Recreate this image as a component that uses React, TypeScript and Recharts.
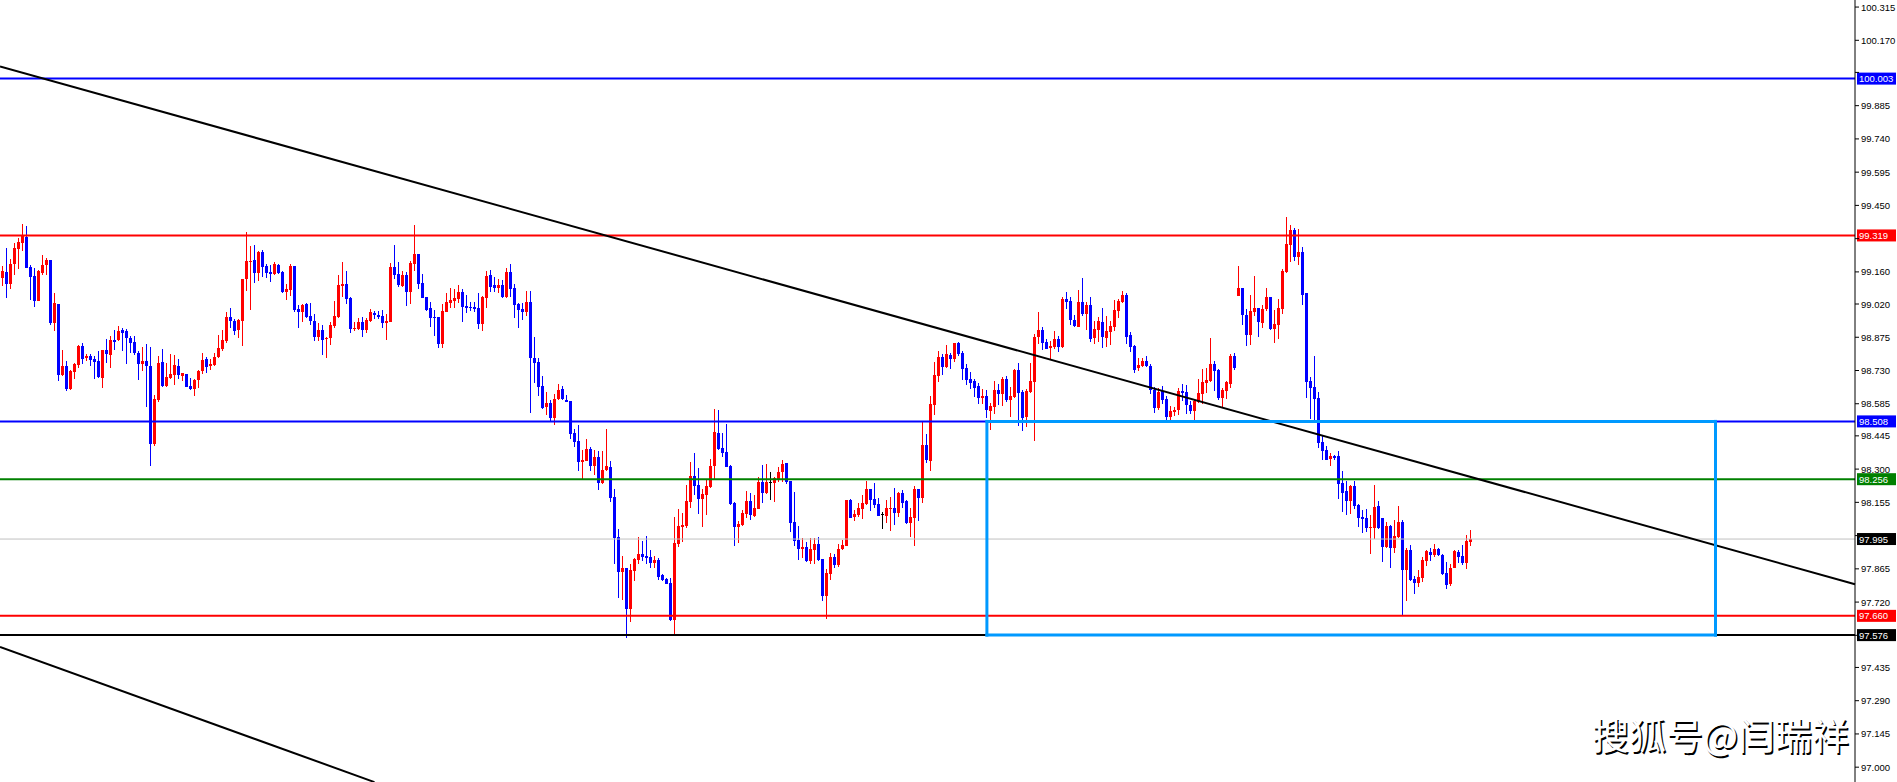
import React from 'react';
import { ComposedChart, Bar, XAxis, YAxis, ReferenceLine } from 'recharts';

// H4-style candles (oldest first)
const opens = [
  99.215, 99.132, 99.160, 99.109, 99.195, 99.261, 99.288, 99.314, 99.182, 99.142,
  99.034, 99.157, 99.188, 99.213, 98.938, 99.021, 98.711, 98.750, 98.650, 98.724,
  98.755, 98.837, 98.786, 98.795, 98.779, 98.771, 98.699, 98.819, 98.799, 98.864,
  98.861, 98.907, 98.903, 98.873, 98.854, 98.808, 98.760, 98.770, 98.750, 98.411,
  98.602, 98.766, 98.663, 98.698, 98.711, 98.751, 98.708, 98.715, 98.663, 98.651,
  98.689, 98.728, 98.780, 98.750, 98.755, 98.790, 98.824, 98.858, 98.965, 98.948,
  98.907, 98.948, 99.128, 99.204, 99.213, 99.157, 99.245, 99.186, 99.160, 99.151,
  99.191, 99.160, 99.073, 99.082, 99.186, 99.000, 98.983, 99.021, 98.968, 98.946,
  98.876, 98.907, 98.866, 98.873, 98.922, 98.962, 99.098, 99.106, 99.048, 98.909,
  98.911, 98.942, 98.907, 98.946, 98.981, 98.973, 98.968, 98.939, 98.943, 99.182,
  99.151, 99.098, 99.147, 99.074, 99.195, 99.239, 99.111, 99.051, 99.003, 98.964,
  98.964, 98.847, 98.986, 99.025, 99.035, 99.042, 99.073, 99.012, 99.007, 99.007,
  99.003, 98.933, 99.046, 99.147, 99.103, 99.090, 99.103, 99.051, 99.160, 99.090,
  99.021, 98.999, 98.986, 99.029, 98.784, 98.767, 98.663, 98.571, 98.589, 98.523,
  98.606, 98.650, 98.602, 98.598, 98.458, 98.423, 98.331, 98.336, 98.388, 98.314,
  98.354, 98.240, 98.297, 98.309, 98.179, 98.004, 97.852, 97.869, 97.691, 97.856,
  97.904, 97.930, 97.921, 97.917, 97.891, 97.904, 97.839, 97.821, 97.804, 97.643,
  97.973, 98.048, 98.053, 98.157, 98.270, 98.231, 98.170, 98.187, 98.222, 98.314,
  98.458, 98.392, 98.375, 98.314, 98.153, 98.048, 98.057, 98.105, 98.162, 98.096,
  98.127, 98.244, 98.196, 98.244, 98.240, 98.257, 98.288, 98.327, 98.248, 98.070,
  97.991, 97.952, 97.960, 97.899, 97.947, 97.973, 97.908, 97.747, 97.843, 97.917,
  97.882, 97.952, 97.965, 98.166, 98.092, 98.100, 98.127, 98.149, 98.214, 98.170,
  98.149, 98.105, 98.096, 98.127, 98.131, 98.109, 98.196, 98.162, 98.065, 98.088,
  98.214, 98.174, 98.405, 98.336, 98.580, 98.706, 98.789, 98.745, 98.798, 98.780,
  98.850, 98.806, 98.741, 98.693, 98.684, 98.663, 98.611, 98.619, 98.554, 98.571,
  98.645, 98.628, 98.693, 98.602, 98.615, 98.732, 98.636, 98.528, 98.636, 98.680,
  98.876, 98.907, 98.854, 98.828, 98.833, 98.867, 98.833, 99.042, 99.034, 98.951,
  98.920, 99.029, 98.977, 99.016, 98.872, 98.907, 98.942, 98.872, 98.898, 98.920,
  98.990, 99.029, 99.060, 98.885, 98.837, 98.741, 98.750, 98.771, 98.750, 98.645,
  98.567, 98.641, 98.606, 98.528, 98.550, 98.558, 98.641, 98.636, 98.580, 98.554,
  98.593, 98.628, 98.674, 98.684, 98.758, 98.732, 98.611, 98.641, 98.671, 98.793,
  99.055, 99.090, 98.973, 98.885, 98.986, 99.003, 98.938, 98.999, 99.051, 98.911,
  98.929, 98.999, 99.160, 99.278, 99.343, 99.225, 99.247, 99.068, 98.684, 98.658,
  98.611, 98.419, 98.383, 98.345, 98.358, 98.358, 98.240, 98.205, 98.162, 98.227,
  98.144, 98.092, 98.088, 98.044, 98.044, 98.140, 98.088, 97.960, 98.053, 97.956,
  98.004, 98.070, 97.860, 97.947, 97.821, 97.804, 97.826, 97.899, 97.938, 97.925,
  97.952, 97.925, 97.847, 97.799, 97.869, 97.938, 97.921, 97.891, 97.982,
];

const highs = [
  99.220, 99.186, 99.264, 99.215, 99.285, 99.309, 99.369, 99.361, 99.191, 99.176,
  99.168, 99.235, 99.220, 99.213, 99.067, 99.021, 98.819, 98.771, 98.732, 98.764,
  98.841, 98.851, 98.800, 98.800, 98.793, 98.815, 98.819, 98.867, 98.880, 98.907,
  98.922, 98.914, 98.911, 98.882, 98.880, 98.815, 98.834, 98.845, 98.834, 98.623,
  98.793, 98.824, 98.764, 98.802, 98.798, 98.780, 98.721, 98.715, 98.698, 98.693,
  98.732, 98.806, 98.790, 98.779, 98.805, 98.885, 98.907, 98.984, 99.003, 98.956,
  98.956, 99.129, 99.334, 99.274, 99.278, 99.252, 99.256, 99.195, 99.191, 99.204,
  99.194, 99.164, 99.107, 99.195, 99.186, 99.016, 99.021, 99.026, 99.025, 98.977,
  98.938, 98.929, 98.876, 98.942, 99.034, 99.147, 99.204, 99.164, 99.051, 98.942,
  98.961, 98.962, 98.961, 98.999, 98.990, 98.990, 98.994, 98.977, 99.200, 99.278,
  99.204, 99.164, 99.160, 99.208, 99.365, 99.239, 99.151, 99.051, 99.029, 98.994,
  98.964, 99.021, 99.068, 99.090, 99.086, 99.103, 99.086, 99.060, 99.029, 99.029,
  99.068, 99.055, 99.164, 99.168, 99.138, 99.129, 99.125, 99.177, 99.195, 99.107,
  99.025, 99.025, 99.077, 99.077, 98.876, 98.784, 98.706, 98.636, 98.602, 98.627,
  98.671, 98.663, 98.623, 98.598, 98.475, 98.493, 98.383, 98.431, 98.396, 98.383,
  98.379, 98.379, 98.475, 98.336, 98.214, 98.039, 97.921, 97.869, 97.886, 97.912,
  98.004, 97.987, 98.008, 97.947, 97.921, 97.912, 97.843, 97.826, 97.826, 98.092,
  98.127, 98.109, 98.231, 98.331, 98.370, 98.304, 98.214, 98.253, 98.345, 98.563,
  98.558, 98.458, 98.498, 98.318, 98.157, 98.074, 98.122, 98.205, 98.196, 98.187,
  98.266, 98.318, 98.323, 98.288, 98.266, 98.309, 98.340, 98.327, 98.248, 98.200,
  98.053, 98.000, 97.982, 98.000, 98.000, 98.004, 97.908, 97.865, 97.934, 97.930,
  97.973, 97.991, 98.166, 98.170, 98.122, 98.153, 98.187, 98.248, 98.214, 98.240,
  98.174, 98.114, 98.166, 98.179, 98.218, 98.200, 98.209, 98.166, 98.131, 98.227,
  98.214, 98.506, 98.453, 98.619, 98.767, 98.815, 98.802, 98.841, 98.806, 98.850,
  98.854, 98.815, 98.758, 98.724, 98.693, 98.674, 98.650, 98.645, 98.589, 98.684,
  98.671, 98.702, 98.706, 98.658, 98.737, 98.763, 98.645, 98.650, 98.763, 98.890,
  98.986, 98.920, 98.867, 98.858, 98.903, 98.880, 99.051, 99.073, 99.051, 98.973,
  99.082, 99.133, 99.029, 99.051, 98.946, 98.964, 99.003, 98.968, 98.946, 99.038,
  99.042, 99.077, 99.068, 98.898, 98.841, 98.784, 98.784, 98.793, 98.758, 98.658,
  98.654, 98.663, 98.619, 98.576, 98.571, 98.654, 98.671, 98.667, 98.598, 98.606,
  98.693, 98.737, 98.741, 98.872, 98.771, 98.737, 98.654, 98.684, 98.802, 98.806,
  99.186, 99.090, 98.999, 99.060, 99.142, 99.003, 99.016, 99.090, 99.051, 98.994,
  99.042, 99.173, 99.400, 99.365, 99.352, 99.347, 99.269, 99.068, 98.702, 98.793,
  98.636, 98.445, 98.401, 98.370, 98.362, 98.379, 98.292, 98.248, 98.231, 98.248,
  98.149, 98.122, 98.127, 98.100, 98.231, 98.162, 98.088, 98.070, 98.057, 98.079,
  98.140, 98.079, 97.956, 97.969, 97.834, 97.860, 97.917, 97.947, 97.956, 97.973,
  97.956, 97.930, 97.895, 97.886, 97.947, 97.947, 97.969, 98.013, 98.035,
];

const lows = [
  99.125, 99.098, 99.048, 99.087, 99.147, 99.173, 99.252, 99.179, 99.038, 99.005,
  99.031, 99.147, 99.146, 98.929, 98.904, 98.684, 98.706, 98.641, 98.645, 98.693,
  98.740, 98.758, 98.771, 98.751, 98.695, 98.696, 98.655, 98.761, 98.743, 98.819,
  98.858, 98.815, 98.760, 98.805, 98.798, 98.689, 98.728, 98.569, 98.315, 98.402,
  98.592, 98.660, 98.660, 98.693, 98.667, 98.693, 98.686, 98.660, 98.645, 98.619,
  98.655, 98.715, 98.721, 98.732, 98.750, 98.786, 98.816, 98.848, 98.914, 98.885,
  98.873, 98.838, 99.078, 98.994, 99.113, 99.122, 99.136, 99.133, 99.118, 99.147,
  99.151, 99.068, 99.038, 99.055, 98.983, 98.916, 98.942, 98.961, 98.929, 98.858,
  98.858, 98.798, 98.786, 98.841, 98.917, 98.958, 99.052, 99.021, 98.895, 98.903,
  98.907, 98.876, 98.894, 98.942, 98.955, 98.955, 98.917, 98.864, 98.943, 99.129,
  99.095, 99.094, 99.013, 99.021, 99.164, 99.087, 99.046, 98.990, 98.920, 98.880,
  98.828, 98.828, 98.983, 99.003, 99.003, 99.025, 98.942, 98.981, 98.990, 98.986,
  98.911, 98.903, 99.003, 99.073, 99.073, 99.068, 99.046, 99.046, 99.051, 98.959,
  98.916, 98.951, 98.968, 98.545, 98.674, 98.619, 98.563, 98.537, 98.506, 98.492,
  98.602, 98.602, 98.593, 98.431, 98.396, 98.292, 98.257, 98.336, 98.292, 98.275,
  98.209, 98.236, 98.292, 98.157, 97.886, 97.738, 97.730, 97.564, 97.634, 97.812,
  97.886, 97.899, 97.886, 97.869, 97.869, 97.817, 97.812, 97.799, 97.638, 97.577,
  97.960, 97.982, 98.044, 98.131, 98.187, 98.105, 98.048, 98.100, 98.218, 98.257,
  98.383, 98.354, 98.309, 98.144, 97.965, 97.978, 98.053, 98.088, 98.079, 98.092,
  98.127, 98.153, 98.192, 98.166, 98.157, 98.244, 98.244, 98.236, 98.026, 97.965,
  97.904, 97.912, 97.895, 97.886, 97.886, 97.899, 97.726, 97.647, 97.817, 97.869,
  97.873, 97.947, 97.965, 98.088, 98.074, 98.092, 98.083, 98.144, 98.118, 98.131,
  98.096, 98.039, 98.065, 98.030, 98.057, 98.092, 98.131, 98.061, 98.004, 97.965,
  98.074, 98.153, 98.327, 98.292, 98.537, 98.680, 98.711, 98.741, 98.737, 98.767,
  98.793, 98.689, 98.667, 98.650, 98.615, 98.584, 98.584, 98.523, 98.471, 98.541,
  98.580, 98.576, 98.593, 98.528, 98.611, 98.488, 98.466, 98.484, 98.632, 98.423,
  98.846, 98.819, 98.824, 98.776, 98.824, 98.811, 98.828, 98.999, 98.929, 98.920,
  98.920, 98.968, 98.907, 98.854, 98.846, 98.854, 98.828, 98.833, 98.841, 98.903,
  98.959, 99.025, 98.846, 98.811, 98.719, 98.728, 98.745, 98.745, 98.628, 98.545,
  98.558, 98.584, 98.515, 98.515, 98.532, 98.537, 98.598, 98.541, 98.541, 98.515,
  98.589, 98.584, 98.632, 98.680, 98.641, 98.602, 98.567, 98.606, 98.654, 98.732,
  99.055, 98.929, 98.837, 98.841, 98.968, 98.876, 98.916, 98.990, 98.907, 98.850,
  98.867, 98.977, 99.156, 99.204, 99.208, 99.191, 99.016, 98.611, 98.519, 98.515,
  98.392, 98.340, 98.340, 98.314, 98.340, 98.170, 98.114, 98.100, 98.105, 98.127,
  98.048, 98.022, 98.026, 97.930, 97.996, 98.039, 97.895, 97.956, 97.869, 97.934,
  98.000, 97.665, 97.726, 97.812, 97.756, 97.786, 97.808, 97.878, 97.899, 97.917,
  97.921, 97.839, 97.778, 97.791, 97.869, 97.891, 97.882, 97.865, 97.965,
];

const closes = [
  99.132, 99.164, 99.109, 99.195, 99.265, 99.291, 99.317, 99.179, 99.139, 99.035,
  99.164, 99.189, 99.213, 98.938, 99.025, 98.711, 98.750, 98.651, 98.728, 98.758,
  98.838, 98.780, 98.795, 98.777, 98.767, 98.702, 98.819, 98.802, 98.864, 98.856,
  98.903, 98.895, 98.873, 98.851, 98.805, 98.760, 98.770, 98.751, 98.411, 98.606,
  98.763, 98.664, 98.700, 98.715, 98.754, 98.711, 98.717, 98.660, 98.650, 98.689,
  98.727, 98.776, 98.747, 98.760, 98.790, 98.829, 98.863, 98.964, 98.948, 98.904,
  98.951, 99.129, 99.208, 99.208, 99.157, 99.245, 99.183, 99.157, 99.153, 99.194,
  99.157, 99.073, 99.086, 99.186, 98.994, 98.983, 99.016, 98.964, 98.948, 98.876,
  98.907, 98.863, 98.873, 98.928, 98.968, 99.103, 99.107, 99.042, 98.909, 98.917,
  98.942, 98.907, 98.951, 98.986, 98.973, 98.965, 98.939, 98.946, 99.182, 99.147,
  99.103, 99.147, 99.074, 99.200, 99.239, 99.107, 99.046, 98.994, 98.961, 98.961,
  98.847, 98.990, 99.029, 99.038, 99.046, 99.073, 99.007, 99.003, 99.003, 98.999,
  98.933, 99.051, 99.142, 99.094, 99.090, 99.103, 99.051, 99.160, 99.086, 99.016,
  98.994, 98.986, 99.029, 98.784, 98.763, 98.658, 98.567, 98.589, 98.523, 98.606,
  98.645, 98.606, 98.593, 98.453, 98.419, 98.331, 98.340, 98.388, 98.314, 98.354,
  98.240, 98.297, 98.314, 98.174, 98.000, 97.852, 97.869, 97.691, 97.860, 97.908,
  97.930, 97.917, 97.912, 97.891, 97.904, 97.830, 97.817, 97.799, 97.643, 97.978,
  98.053, 98.057, 98.162, 98.270, 98.227, 98.170, 98.192, 98.227, 98.314, 98.462,
  98.388, 98.370, 98.309, 98.149, 98.048, 98.061, 98.109, 98.162, 98.100, 98.131,
  98.244, 98.196, 98.244, 98.244, 98.262, 98.288, 98.323, 98.244, 98.065, 97.987,
  97.952, 97.960, 97.899, 97.952, 97.973, 97.904, 97.747, 97.847, 97.917, 97.882,
  97.952, 97.969, 98.166, 98.088, 98.105, 98.131, 98.153, 98.214, 98.166, 98.144,
  98.096, 98.105, 98.131, 98.131, 98.109, 98.196, 98.153, 98.065, 98.092, 98.214,
  98.174, 98.405, 98.340, 98.584, 98.711, 98.789, 98.745, 98.802, 98.780, 98.850,
  98.802, 98.737, 98.689, 98.674, 98.654, 98.611, 98.619, 98.558, 98.576, 98.645,
  98.628, 98.693, 98.602, 98.619, 98.732, 98.632, 98.523, 98.641, 98.684, 98.876,
  98.907, 98.850, 98.824, 98.837, 98.867, 98.833, 99.042, 99.029, 98.951, 98.925,
  99.029, 98.977, 99.016, 98.867, 98.911, 98.946, 98.876, 98.903, 98.925, 98.994,
  99.034, 99.060, 98.876, 98.833, 98.732, 98.754, 98.771, 98.750, 98.645, 98.567,
  98.636, 98.602, 98.528, 98.554, 98.558, 98.641, 98.632, 98.580, 98.554, 98.598,
  98.632, 98.680, 98.689, 98.758, 98.728, 98.611, 98.645, 98.680, 98.793, 98.741,
  99.090, 98.973, 98.885, 98.990, 99.003, 98.942, 98.999, 99.051, 98.911, 98.933,
  99.003, 99.164, 99.282, 99.343, 99.225, 99.247, 99.060, 98.680, 98.654, 98.606,
  98.414, 98.379, 98.340, 98.358, 98.349, 98.236, 98.196, 98.162, 98.227, 98.140,
  98.088, 98.083, 98.044, 98.048, 98.135, 98.044, 97.960, 98.053, 97.956, 98.008,
  98.070, 97.860, 97.947, 97.817, 97.804, 97.830, 97.904, 97.943, 97.925, 97.952,
  97.925, 97.843, 97.795, 97.869, 97.943, 97.917, 97.891, 97.987, 97.995,
];

// right price scale
const priceTicks = [
  97.0, 97.145, 97.29, 97.435, 97.575, 97.72, 97.865, 98.01, 98.155, 98.3, 98.445, 98.585,
  98.73, 98.875, 99.02, 99.16, 99.305, 99.45, 99.595, 99.74, 99.885, 100.03, 100.17, 100.315,
];
const priceDomain = [96.9354, 100.3458];
const barDomain = [0.175, 463.925];

// horizontal levels drawn on the chart
const levels = [
  { price: 100.003, color: '#0000ff', tag: '#0000ff', width: 2 },
  { price: 99.319, color: '#ff0000', tag: '#ff0000', width: 2 },
  { price: 98.508, color: '#0000ff', tag: '#0000ff', width: 2 },
  { price: 98.256, color: '#008000', tag: '#008000', width: 2 },
  { price: 97.995, color: '#c0c0c0', tag: '#000000', width: 1 },
  { price: 97.66, color: '#ff0000', tag: '#ff0000', width: 2 },
  { price: 97.576, color: '#000000', tag: '#000000', width: 2 },
];

// trend lines, as two anchor points each
const upperTrend = [{ x: 0.175, y: 100.056 }, { x: 463.925, y: 97.798 }];
const lowerTrend = [{ x: 0.175, y: 97.524 }, { x: 93.8, y: 96.935 }];

// range box (bar index / price corners)
const boxLeft = 246.9;
const boxRight = 429.05;
const boxTop = 98.508;
const boxBottom = 97.576;

const candles = opens.map((open, i) => ({
  i,
  open,
  high: highs[i],
  low: lows[i],
  close: closes[i],
  range: [lows[i], highs[i]],
}));

const boxEdges = [
  [{ x: boxLeft, y: boxTop }, { x: boxRight, y: boxTop }],
  [{ x: boxRight, y: boxTop }, { x: boxRight, y: boxBottom }],
  [{ x: boxRight, y: boxBottom }, { x: boxLeft, y: boxBottom }],
  [{ x: boxLeft, y: boxBottom }, { x: boxLeft, y: boxTop }],
];

const axisFont = '"Liberation Sans", Arial, sans-serif';

const Candle = (props: any) => {
  const { x, y, width, height, payload } = props;
  if (!payload) return null;
  const { open, close, high, low } = payload;
  const top = Math.min(y, y + height);
  const h = Math.abs(height);
  const k = high > low ? h / (high - low) : 0;
  const yOf = (v: number) => top + (high - v) * k;
  const cx = Math.floor(x + width / 2);
  const color = close > open ? '#ff0000' : close < open ? '#0000ff' : '#000000';
  const bTop = yOf(Math.max(open, close));
  const bBot = yOf(Math.min(open, close));
  return (
    <g shapeRendering="crispEdges">
      <rect x={cx} y={top} width={1} height={Math.max(h, 1)} fill={color} />
      <rect x={cx - 1} y={bTop} width={3} height={Math.max(bBot - bTop, 1)} fill={color} />
    </g>
  );
};

// tick labels hidden under a price tag are not drawn
const PriceTick = (props: any) => {
  const { x, y, payload } = props;
  const v = payload.value;
  if (levels.some((l) => Math.abs(l.price - v) < 0.03)) return null;
  return (
    <text x={x} y={y + 3.5} fill="#000" fontSize={9.5} fontFamily={axisFont}>
      {v.toFixed(3)}
    </text>
  );
};

const PriceTag = (props: any) => {
  const { viewBox, fill, text } = props;
  if (!viewBox) return null;
  const right = viewBox.x + viewBox.width;
  return (
    <g>
      <rect x={right + 2} y={viewBox.y - 6} width={39} height={12} fill={fill} />
      <text x={right + 4} y={viewBox.y + 3.5} fill="#ffffff" fontSize={9.5} fontFamily={axisFont}>
        {text}
      </text>
    </g>
  );
};

export default function App() {
  return (
    <div style={{ position: 'absolute', left: 0, top: 0, width: 1897, height: 782, background: '#fff', overflow: 'hidden' }}>
      <ComposedChart width={1897} height={782} data={candles} margin={{ top: 0, right: 0, bottom: 0, left: 0 }}>
        <XAxis type="number" dataKey="i" domain={barDomain} allowDataOverflow hide />
        <YAxis
          orientation="right"
          width={42}
          domain={priceDomain}
          allowDataOverflow
          ticks={priceTicks}
          interval={0}
          tickSize={4}
          tickMargin={2}
          tick={<PriceTick />}
          axisLine={{ stroke: '#000' }}
          tickLine={{ stroke: '#000' }}
        />
        <Bar dataKey="range" barSize={3} shape={<Candle />} isAnimationActive={false} />
        {levels.map((l) => (
          <ReferenceLine
            key={l.price}
            y={l.price}
            stroke={l.color}
            strokeWidth={l.width}
            label={<PriceTag fill={l.tag} text={l.price.toFixed(3)} />}
          />
        ))}
        <ReferenceLine segment={upperTrend} stroke="#000" strokeWidth={2} ifOverflow="visible" />
        <ReferenceLine segment={lowerTrend} stroke="#000" strokeWidth={2} ifOverflow="visible" />
        {boxEdges.map((seg, idx) => (
          <ReferenceLine
            key={'box' + idx}
            segment={seg}
            stroke="#0099ff"
            strokeWidth={3}
            strokeLinecap="square"
            ifOverflow="visible"
          />
        ))}
      </ComposedChart>
      <div
        style={{
          position: 'absolute',
          left: 1592,
          top: 716,
          fontSize: 37,
          lineHeight: 1,
          fontFamily: '"Noto Sans CJK SC", sans-serif',
          color: '#fff',
          textShadow: '1.5px 1.5px 0 #000',
          whiteSpace: 'nowrap',
        }}
      >
        搜狐号@闫瑞祥
      </div>
    </div>
  );
}
